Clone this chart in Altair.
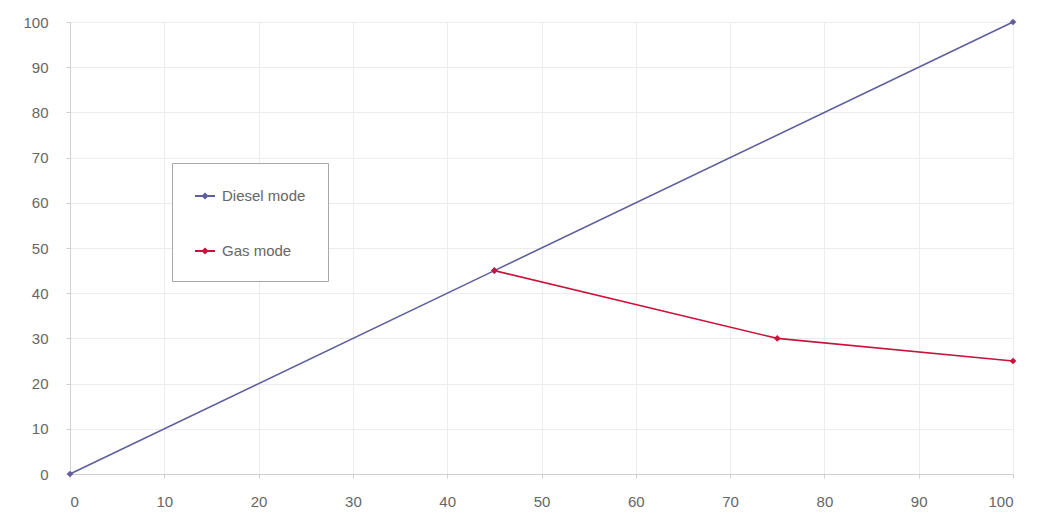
import altair as alt
import pandas as pd

# Engine output curves
diesel_x = [0, 45, 100]
diesel_y = [0, 45, 100]
gas_x = [45, 75, 100]
gas_y = [45, 30, 25]

series_names = ["Diesel mode", "Gas mode"]
series_colors = ["#5f5fa0", "#c8143a"]
tick_values = list(range(0, 101, 10))

df = pd.concat([
    pd.DataFrame({"x": diesel_x, "y": diesel_y, "series": series_names[0]}),
    pd.DataFrame({"x": gas_x, "y": gas_y, "series": series_names[1]}),
])

axis_common = dict(
    values=tick_values,
    grid=True,
    gridColor="#ececec",
    domainColor="#d0d0d0",
    tickColor="#d0d0d0",
    tickSize=4,
    labelColor="#666666",
    labelFont="Liberation Sans",
    labelFontSize=15,
    title=None,
)

# legend glyph: short line with a small diamond marker in the middle
line_with_marker = "M-1,0L1,0M0,-0.22L0.22,0L0,0.22L-0.22,0Z"

chart = alt.Chart(df).mark_line(
    strokeWidth=1.6,
    point=alt.OverlayMarkDef(shape="diamond", size=45, filled=True),
).encode(
    x=alt.X("x:Q", scale=alt.Scale(domain=[0, 100], nice=False),
            axis=alt.Axis(labelPadding=16, **axis_common)),
    y=alt.Y("y:Q", scale=alt.Scale(domain=[0, 100], nice=False),
            axis=alt.Axis(labelPadding=18, **axis_common)),
    color=alt.Color(
        "series:N",
        scale=alt.Scale(domain=series_names, range=series_colors),
        legend=alt.Legend(
            title=None,
            orient="none",
            legendX=102,
            legendY=141,
            symbolType=line_with_marker,
            symbolStrokeWidth=2,
            symbolSize=400,
            labelOffset=6,
            labelFont="Liberation Sans",
            labelFontSize=15,
            labelColor="#666666",
            rowPadding=36,
            padding=22,
            strokeColor="#a8a8a8",
            fillColor="white",
            labelLimit=200,
        ),
    ),
    order="x:Q",
).properties(
    width=943,
    height=452,
    autosize=alt.AutoSizeParams(type="none"),
    padding={"left": 70, "top": 22, "right": 27, "bottom": 56},
).configure_view(stroke=None).configure(background="white")

chart.save("out.html", embed_options={"renderer": "svg", "actions": False})
